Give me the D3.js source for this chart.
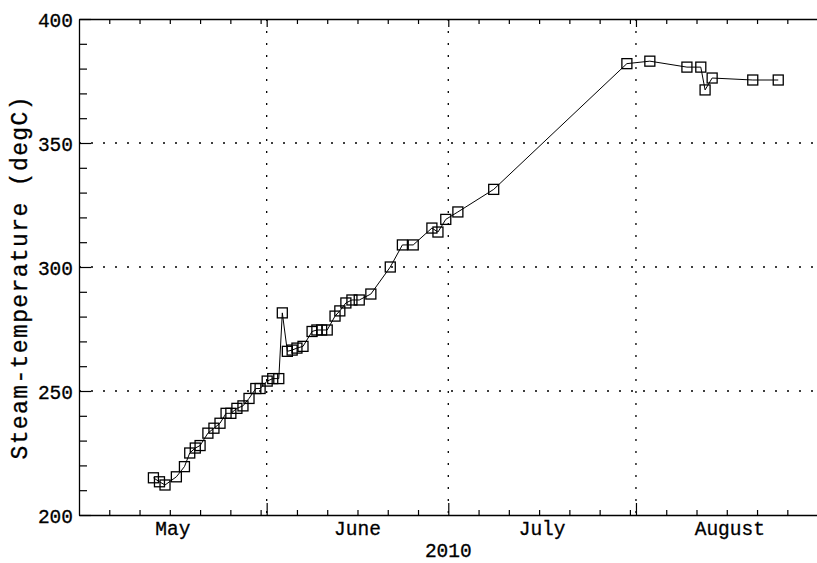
<!DOCTYPE html>
<html>
<head>
<meta charset="utf-8">
<script src="https://cdn.jsdelivr.net/npm/d3@7"></script>
<style>
  body { margin: 0; background: #fff; }
  svg { display: block; }
  .axis path { stroke: #000; stroke-width: 1.3; }
  .axis line { stroke: #000; stroke-width: 1.2; }
  .axis text, .lbl { font-family: "Liberation Mono", "DejaVu Sans Mono", monospace; fill: #000; stroke: #000; stroke-width: 0.3; }
</style>
</head>
<body>
<svg width="817" height="563"></svg>
<script>
// sample times (2010) and steam temperature readings
var times = [
  "2010-05-13T07:00", "2010-05-14T07:00", "2010-05-15T05:00", "2010-05-17T02:00",
  "2010-05-18T10:00", "2010-05-19T07:00", "2010-05-20T05:00", "2010-05-21T00:00",
  "2010-05-22T07:00", "2010-05-23T07:00", "2010-05-24T07:00", "2010-05-25T07:00",
  "2010-05-26T02:00", "2010-05-27T02:00", "2010-05-28T02:00", "2010-05-29T02:00",
  "2010-05-30T05:00", "2010-05-30T22:00", "2010-06-01T02:00", "2010-06-02T00:00",
  "2010-06-03T00:00", "2010-06-03T14:00", "2010-06-04T10:00", "2010-06-05T05:00",
  "2010-06-06T00:00", "2010-06-07T00:00", "2010-06-08T12:00", "2010-06-09T07:00",
  "2010-06-10T02:00", "2010-06-11T00:00", "2010-06-12T07:00", "2010-06-13T02:00",
  "2010-06-14T02:00", "2010-06-15T02:00", "2010-06-16T07:00", "2010-06-18T05:00",
  "2010-06-21T10:00", "2010-06-23T10:00", "2010-06-25T05:00", "2010-06-28T07:00",
  "2010-06-29T07:00", "2010-06-30T14:00", "2010-07-02T14:00", "2010-07-08T12:00",
  "2010-07-30T12:00", "2010-08-03T07:00", "2010-08-09T10:00", "2010-08-11T17:00",
  "2010-08-12T10:00", "2010-08-13T14:00", "2010-08-20T07:00", "2010-08-24T12:00"
];
var temps = [
  215, 213.4, 212.1, 215.4,
  219.5, 225, 227, 228,
  233, 235, 237, 241,
  241, 243, 244, 247,
  251, 251, 254, 255,
  255, 281.5, 266, 266.5,
  267.3, 268, 274, 274.6,
  274.6, 274.6, 280.2, 282.3,
  285.5, 286.7, 286.7, 289.1,
  300, 308.9, 308.9, 315.7,
  314.1, 319.2, 322.2, 331.3,
  382, 383, 380.6, 380.6,
  371.4, 376.2, 375.4, 375.4
];
var months = ["May", "June", "July", "August"];
var monthStarts = ["2010-05-01", "2010-06-01", "2010-07-01", "2010-08-01"];
var yMajor = [200, 250, 300, 350, 400];
var yGrid = [250, 300, 350];
var yearLabel = "2010";
var yTitle = "Steam-temperature (degC)";

var parse = d3.isoParse;
var data = times.map(function(t, i) { return { t: parse(t), v: temps[i] }; });

var svg = d3.select("svg"),
    plotLeft = 79, plotTop = 19, plotBottom = 515,
    pxPerDay = 6.054;

var t0 = parse("2010-05-01"), t1 = parse("2010-09-01");
var x = d3.scaleTime()
    .domain([t0, t1])
    .range([plotLeft, plotLeft + d3.timeDay.count(t0, t1) * pxPerDay]);
var y = d3.scaleLinear().domain([200, 400]).range([plotBottom, plotTop]);

var monthDates = monthStarts.map(parse);
// minor ticks every 5 days (6th, 11th, ... of each month)
var minorDates = [];
monthDates.forEach(function(m) {
  for (var d = 6; d <= 31; d += 5) {
    var dt = d3.timeDay.offset(m, d - 1);
    if (dt.getMonth() == m.getMonth()) minorDates.push(dt);
  }
});
var yMinor = d3.range(200, 401, 10).filter(function(v) { return yMajor.indexOf(v) < 0; });

// dotted grid
var grid = svg.append("g").attr("stroke", "#000").attr("stroke-width", 1.3).attr("stroke-dasharray", "2,10");
grid.selectAll(".gy").data(yGrid).enter().append("line")
    .attr("x1", plotLeft).attr("x2", 817)
    .attr("y1", function(d) { return y(d); }).attr("y2", function(d) { return y(d); });
grid.selectAll(".gx").data(monthDates.slice(1)).enter().append("line")
    .attr("y1", plotTop).attr("y2", plotBottom)
    .attr("x1", function(d) { return x(d); }).attr("x2", function(d) { return x(d); });

// bottom axis
svg.append("g").attr("class", "axis").attr("transform", "translate(0," + plotBottom + ")")
    .call(d3.axisBottom(x).tickValues(minorDates).tickSize(-5).tickSizeOuter(0).tickFormat(""));
svg.append("g").attr("class", "axis").attr("transform", "translate(0," + plotBottom + ")")
    .call(d3.axisBottom(x).tickValues(monthDates.slice(1)).tickSize(-12).tickSizeOuter(0).tickFormat(""))
    .select(".domain").remove();

// top axis
svg.append("g").attr("class", "axis").attr("transform", "translate(0," + plotTop + ")")
    .call(d3.axisTop(x).tickValues(minorDates).tickSize(-5).tickSizeOuter(0).tickFormat(""));
svg.append("g").attr("class", "axis").attr("transform", "translate(0," + plotTop + ")")
    .call(d3.axisTop(x).tickValues(monthDates.slice(1)).tickSize(-8).tickSizeOuter(0).tickFormat(""))
    .select(".domain").remove();

// left axis
svg.append("g").attr("class", "axis").attr("transform", "translate(" + plotLeft + ",0)")
    .call(d3.axisLeft(y).tickValues(yMinor).tickSize(-8).tickSizeOuter(0).tickFormat(""));
var yax = svg.append("g").attr("class", "axis").attr("transform", "translate(" + plotLeft + ",0)")
    .call(d3.axisLeft(y).tickValues(yMajor).tickSize(-12).tickSizeOuter(0).tickPadding(6));
yax.select(".domain").remove();
yax.selectAll("text").attr("font-size", 19.5).attr("dy", "0.36em");

// month labels centred on each month
svg.selectAll(".mlab").data(months).enter().append("text")
    .attr("class", "lbl")
    .attr("text-anchor", "middle")
    .attr("font-size", 19.5)
    .attr("x", function(d, i) {
      var a = monthDates[i], b = d3.timeMonth.offset(a, 1);
      return (x(a) + x(b)) / 2;
    })
    .attr("y", 535)
    .text(function(d) { return d; });

svg.append("text").attr("class", "lbl")
    .attr("text-anchor", "middle").attr("font-size", 19.5)
    .attr("x", x(parse("2010-07-01"))).attr("y", 557)
    .text(yearLabel);

svg.append("text").attr("class", "lbl")
    .attr("text-anchor", "middle").attr("font-size", 23)
    .attr("transform", "translate(27,278) rotate(-90)")
    .attr("textLength", 363).attr("lengthAdjust", "spacing")
    .text(yTitle);

// series
var line = d3.line().x(function(d) { return x(d.t); }).y(function(d) { return y(d.v); });
svg.append("path").datum(data)
    .attr("fill", "none").attr("stroke", "#000").attr("stroke-width", 1)
    .attr("d", line);

svg.selectAll(".pt").data(data).enter().append("rect")
    .attr("x", function(d) { return x(d.t) - 5; })
    .attr("y", function(d) { return y(d.v) - 5; })
    .attr("width", 10).attr("height", 10)
    .attr("fill", "none").attr("stroke", "#000").attr("stroke-width", 1.3);
</script>
</body>
</html>
